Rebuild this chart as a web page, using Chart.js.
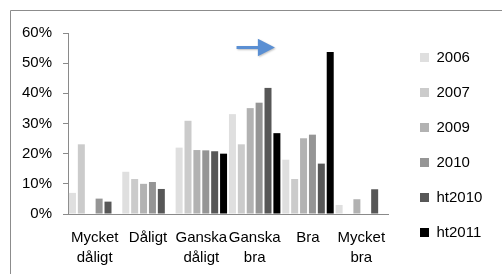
<!DOCTYPE html>
<html>
<head>
<meta charset="utf-8">
<script src="https://cdn.jsdelivr.net/npm/chart.js@4/dist/chart.umd.min.js"></script>
<style>
html,body{margin:0;padding:0;background:#fff;}
#wrap{position:relative;width:502px;height:274px;}
</style>
</head>
<body>
<div id="wrap"><canvas id="c" width="502" height="274"></canvas></div>
<script>
const categories = [['Mycket','dåligt'], 'Dåligt', ['Ganska','dåligt'], ['Ganska','bra'], 'Bra', ['Mycket','bra']];
const seriesNames = ['2006', '2007', '2009', '2010', 'ht2010', 'ht2011'];
const s2006   = [7.0, 14.0, 22.0, 33.1, 18.0, 3.0];
const s2007   = [23.1, 11.6, 30.9, 23.1, 11.6, null];
const s2009   = [null, 10.0, 21.2, 35.1, 25.1, 4.9];
const s2010   = [5.1, 10.6, 21.1, 36.9, 26.3, null];
const sht2010 = [4.1, 8.3, 20.8, 41.8, 16.7, 8.2];
const sht2011 = [null, null, 20.0, 26.8, 53.7, null];
const yTicks = [0, 10, 20, 30, 40, 50, 60];

const seriesValues = [s2006, s2007, s2009, s2010, sht2010, sht2011];
const seriesColors = ['#dfdfdf', '#cbcbcb', '#b2b2b2', '#959595', '#575757', '#000000'];

const FONT = 'Liberation Sans, Arial, sans-serif';
Chart.defaults.font.family = FONT;
Chart.defaults.color = '#000';

const framePlugin = {
  id: 'frame',
  beforeDraw(chart) {
    const ctx = chart.ctx;
    ctx.save();
    ctx.strokeStyle = '#8c8c8c';
    ctx.lineWidth = 1;
    ctx.beginPath();
    ctx.moveTo(10.5, chart.height);
    ctx.lineTo(10.5, 10.5);
    ctx.lineTo(chart.width, 10.5);
    ctx.stroke();
    ctx.restore();
  }
};

const arrowSpec = {from: 2.66, headBase: 3.06, to: 3.38, value: 55.2, halfHead: 8.7, shaft: 3.2};
const arrowPlugin = {
  id: 'arrow',
  afterDraw(chart) {
    const xs = chart.scales.x, ys = chart.scales.y, ctx = chart.ctx;
    const x0 = xs.getPixelForValue(arrowSpec.from);
    const xb = xs.getPixelForValue(arrowSpec.headBase);
    const x1 = xs.getPixelForValue(arrowSpec.to);
    const y = ys.getPixelForValue(arrowSpec.value);
    ctx.save();
    ctx.shadowColor = 'rgba(0,0,0,0.25)';
    ctx.shadowBlur = 2;
    ctx.shadowOffsetX = 1;
    ctx.shadowOffsetY = 1;
    ctx.fillStyle = '#5a8fd3';
    ctx.beginPath();
    ctx.moveTo(x0, y - arrowSpec.shaft / 2);
    ctx.lineTo(xb, y - arrowSpec.shaft / 2);
    ctx.lineTo(xb, y - arrowSpec.halfHead);
    ctx.lineTo(x1, y);
    ctx.lineTo(xb, y + arrowSpec.halfHead);
    ctx.lineTo(xb, y + arrowSpec.shaft / 2);
    ctx.lineTo(x0, y + arrowSpec.shaft / 2);
    ctx.closePath();
    ctx.fill();
    ctx.restore();
  }
};

const legendWidthPlugin = {
  id: 'legendWidth',
  beforeLayout(chart) {
    const lg = chart.legend;
    if (lg && !lg._patched) {
      const orig = lg.fit.bind(lg);
      lg.fit = function() { orig(); this.width = 102; };
      lg._patched = true;
    }
  }
};

new Chart(document.getElementById('c'), {
  type: 'bar',
  data: {
    labels: categories,
    datasets: seriesNames.map((n, i) => ({
      label: n,
      data: seriesValues[i],
      backgroundColor: seriesColors[i],
      borderWidth: 0,
      barPercentage: 0.7875,
      categoryPercentage: 1.0
    }))
  },
  options: {
    responsive: false,
    animation: false,
    layout: {padding: {left: 10, top: 30, right: 0, bottom: 0}},
    plugins: {
      title: {display: true, text: '', font: {size: 1, lineHeight: 1}, padding: {top: 2, bottom: 0}},
      tooltip: {enabled: false},
      legend: {
        position: 'right',
        align: 'start',
        labels: {
          boxWidth: 9,
          boxHeight: 9,
          padding: 20,
          color: '#000',
          font: {size: 15, family: FONT}
        }
      }
    },
    scales: {
      x: {
        grid: {display: false, drawTicks: false},
        border: {display: true, color: '#8a8a8a', width: 1},
        ticks: {
          autoSkip: false, maxRotation: 0, minRotation: 0, padding: 14,
          color: '#000',
          font: {size: 15, family: FONT, lineHeight: '20px'}
        },
        afterFit(s) { s.height = 60; }
      },
      y: {
        min: 0, max: 60,
        afterBuildTicks(s) { s.ticks = yTicks.map(v => ({value: v})); },
        grid: {drawOnChartArea: false, drawTicks: true, tickLength: 5, color: '#8a8a8a'},
        border: {display: true, color: '#8a8a8a', width: 1},
        ticks: {
          padding: 11,
          color: '#000',
          font: {size: 15, family: FONT},
          callback: v => v + '%'
        },
        afterFit(s) { s.width = 58; }
      },
      gap: {
        type: 'linear',
        position: 'right',
        display: true,
        grid: {display: false, drawTicks: false},
        border: {display: false},
        ticks: {display: false},
        afterFit(s) { s.width = 12; }
      }
    }
  },
  plugins: [framePlugin, arrowPlugin, legendWidthPlugin]
});
</script>
</body>
</html>
